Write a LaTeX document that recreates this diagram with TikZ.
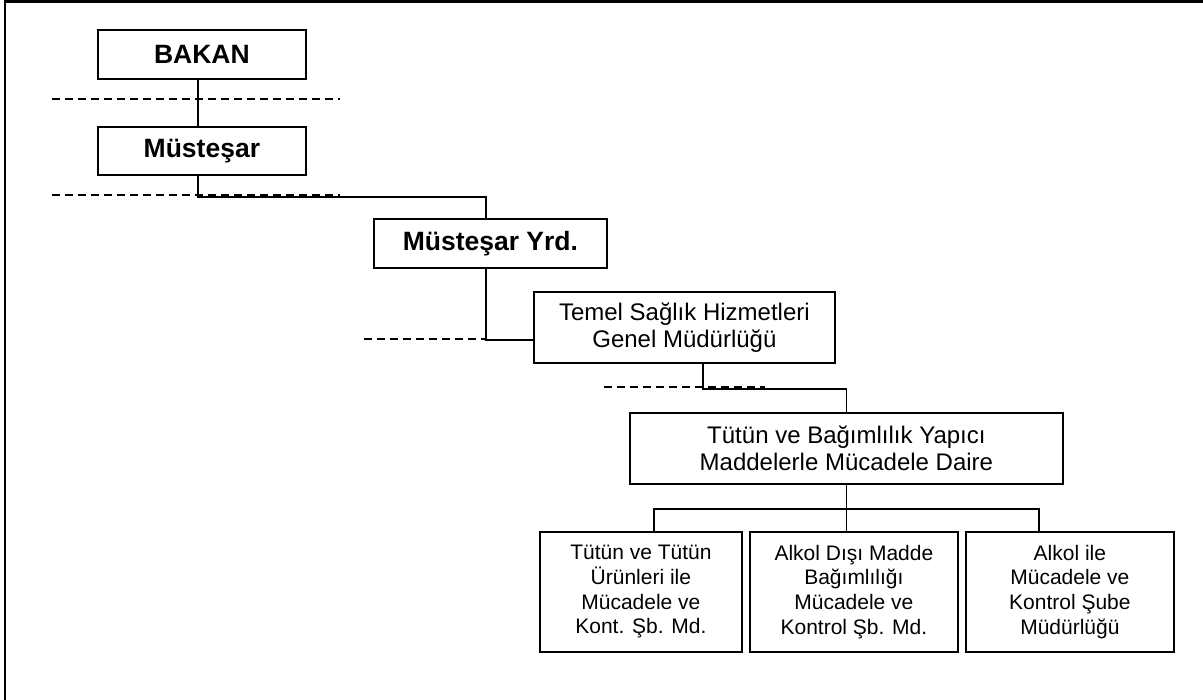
\documentclass[tikz,border=0pt]{standalone}
\usepackage{fontspec}
\setmainfont{Liberation Sans}
\begin{document}
\begin{tikzpicture}[x=1pt,y=-1pt,
  box/.style={draw,line width=1.8pt,inner sep=0pt,align=center,anchor=north west},
  boldbox/.style={box,font=\fontsize{26.5}{30}\selectfont\bfseries},
  midbox/.style={box,font=\fontsize{24}{27}\selectfont},
  smallbox/.style={box,font=\fontsize{21}{24.7}\selectfont},
  conn/.style={line width=1.7pt},
  dashline/.style={line width=1.6pt,dash pattern=on 8pt off 5pt}]
\useasboundingbox (0,0) rectangle (1203,700);
% frame
\draw[line width=2.2pt] (1203,1.5) -- (5,1.5) -- (5,700);
% dashed guide lines
\draw[dashline] (52,99) -- (340,99);
\draw[dashline] (52,195) -- (340,195);
\draw[dashline] (364,339) -- (485,339);
\draw[dashline] (604,387) -- (765,387);
% nodes
\node[boldbox,minimum width=208pt,minimum height=49pt] (bakan) at (97,29) {BAKAN};
\node[boldbox,minimum width=208pt,minimum height=48pt] (must) at (97,126) {Müsteşar};
\node[boldbox,minimum width=233pt,minimum height=49pt] (yrd) at (373,218) {Müsteşar Yrd.};
\node[midbox,minimum width=301pt,minimum height=71pt] (temel) at (533,291) {Temel Sağlık Hizmetleri\\Genel Müdürlüğü};
\node[midbox,minimum width=433pt,minimum height=71pt] (daire) at (629,412) {Tütün ve Bağımlılık Yapıcı\\Maddelerle Mücadele Daire};
\node[smallbox,minimum width=202pt,minimum height=120pt] (b1) at (539,531) {Tütün ve Tütün\\Ürünleri ile\\Mücadele ve\\Kont. Şb. Md.};
\node[smallbox,minimum width=208pt,minimum height=120pt] (b2) at (749,531) {Alkol Dışı Madde\\Bağımlılığı\\Mücadele ve\\Kontrol Şb. Md.};
\node[smallbox,minimum width=208pt,minimum height=120pt] (b3) at (965,531) {Alkol ile\\Mücadele ve\\Kontrol Şube\\Müdürlüğü};
% connectors
\draw[conn] ([xshift=-4pt]bakan.south) -- ([xshift=-4pt]must.north);
\draw[conn] ([xshift=-4pt]must.south) -- ++(0,21) -| ([xshift=-4.5pt]yrd.north);
\draw[conn] ([xshift=-4.5pt]yrd.south) |- ([yshift=-12.5pt]temel.west);
\draw[conn] ([xshift=18.5pt]temel.south) -- ++(0,25) -| (daire.north);
\draw[conn] (daire.south) -- (daire.south |- b2.north);
\draw[conn] (daire.south) -- ++(0,24) coordinate (j);
\draw[conn] ([xshift=13pt]b1.north) |- (j) -| ([xshift=-31pt]b3.north);
\end{tikzpicture}
\end{document}
